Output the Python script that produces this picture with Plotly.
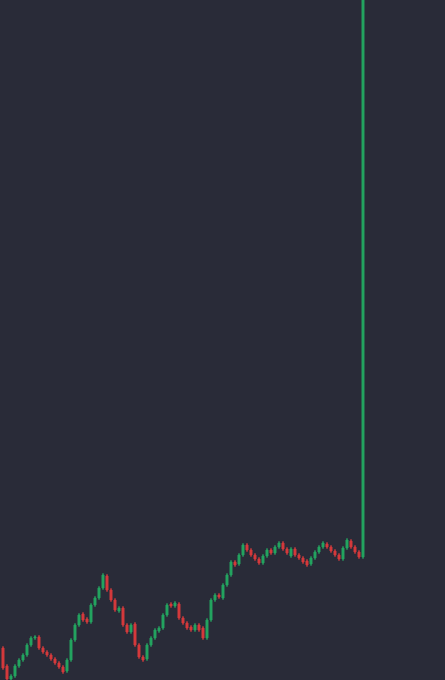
import plotly.graph_objects as go

# Price units (arbitrary), one candle per period
opens = [32, 14, 1, 4, 14, 20, 25, 35, 42, 43, 32, 28, 25, 21, 17, 13, 9, 20, 40, 55,
         66, 61, 58, 75, 82, 92, 104, 90, 80, 69, 72, 55, 48, 56, 35, 23, 21, 35, 42, 49,
         52, 65, 76, 74, 76, 62, 57, 53, 50, 55, 52, 42, 60, 80, 85, 82, 95, 105, 118, 116,
         125, 135, 130, 125, 121, 117, 124, 130, 127, 133, 137, 131, 124, 131, 125, 122, 119, 116, 122, 128,
         133, 136, 133, 129, 125, 121, 132, 139, 133, 128, 123]
closes = [12, 1, 4, 14, 20, 25, 35, 42, 43, 32, 28, 25, 21, 17, 13, 8, 20, 40, 55, 65,
          60, 58, 75, 82, 92, 105, 90, 80, 70, 72, 55, 48, 55, 35, 23, 20, 35, 42, 50, 52,
          65, 75, 74, 77, 62, 57, 52, 50, 55, 50, 42, 60, 80, 85, 83, 95, 105, 118, 115, 125,
          135, 130, 125, 121, 117, 124, 130, 127, 133, 137, 131, 127, 131, 125, 122, 118, 115, 122, 128, 133,
          137, 133, 129, 125, 121, 132, 140, 133, 128, 123, 740]
highs = [34, 16, 6, 16, 22, 27, 37, 44, 45, 45, 34, 30, 27, 23, 19, 15, 22, 42, 57, 67,
         68, 63, 77, 84, 94, 107, 106, 92, 82, 74, 74, 57, 57, 58, 37, 25, 37, 44, 52, 54,
         67, 77, 78, 79, 78, 64, 59, 55, 57, 57, 54, 62, 82, 87, 87, 97, 107, 120, 120, 127,
         137, 137, 132, 127, 123, 126, 132, 132, 135, 139, 139, 133, 133, 133, 127, 124, 121, 124, 130, 135,
         139, 138, 135, 131, 127, 134, 142, 141, 135, 130, 742]
lows = [10, -1, -1, 2, 12, 18, 23, 33, 40, 30, 26, 23, 19, 15, 11, 6, 7, 18, 38, 53,
        58, 56, 56, 73, 80, 90, 88, 78, 68, 67, 53, 46, 46, 33, 21, 18, 19, 33, 40, 47,
        50, 63, 72, 72, 60, 55, 50, 48, 48, 48, 40, 40, 58, 78, 81, 80, 93, 103, 113, 114,
        123, 128, 123, 119, 115, 115, 122, 125, 125, 131, 129, 125, 122, 123, 120, 116, 113, 114, 120, 126,
        131, 131, 127, 123, 119, 119, 130, 131, 126, 121, 121]
periods = list(range(len(opens)))

BG = "#292b38"
GREEN = "#24a560"
RED = "#d63a3c"

fig = go.Figure(go.Candlestick(
    x=periods, open=opens, high=highs, low=lows, close=closes,
    increasing=dict(line=dict(color=GREEN, width=1), fillcolor=GREEN),
    decreasing=dict(line=dict(color=RED, width=1), fillcolor=RED),
    whiskerwidth=0,
    hoverinfo="skip",
))

fig.update_layout(
    width=445, height=680,
    margin=dict(l=0, r=0, t=0, b=0),
    paper_bgcolor=BG, plot_bgcolor=BG,
    showlegend=False,
    boxgap=0.3,
    xaxis=dict(range=[-0.75, 110.5], visible=False, rangeslider=dict(visible=False),
               showgrid=False, zeroline=False),
    yaxis=dict(range=[0, 680], visible=False, showgrid=False, zeroline=False),
)

fig.write_html(
    "out.html",
    config={"displayModeBar": False},
    post_script="document.body.style.margin='0';document.body.style.background='%s';" % BG,
)
